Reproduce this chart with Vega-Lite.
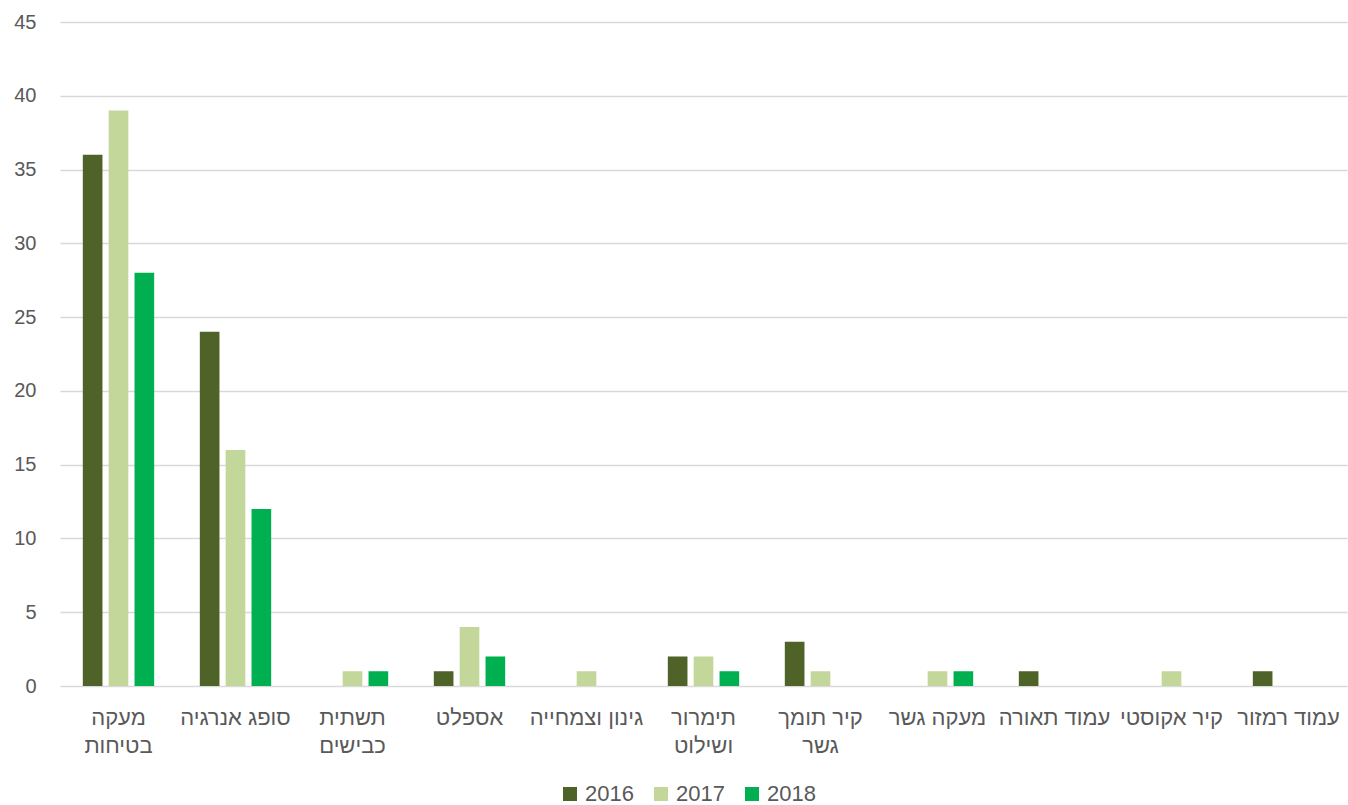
{
  "$schema": "https://vega.github.io/schema/vega-lite/v6.json",
  "width": 1287,
  "height": 664,
  "autosize": {"type": "none"},
  "padding": {"left": 60, "top": 22, "right": 1, "bottom": 119},
  "background": "white",
  "config": {
    "font": "Liberation Sans",
    "view": {"stroke": null},
    "axis": {"labelFont": "Liberation Sans", "labelColor": "#595959"}
  },
  "data": {
    "values": [
      {"category": "מעקה בטיחות", "year": "2016", "value": 36},
      {"category": "מעקה בטיחות", "year": "2017", "value": 39},
      {"category": "מעקה בטיחות", "year": "2018", "value": 28},
      {"category": "סופג אנרגיה", "year": "2016", "value": 24},
      {"category": "סופג אנרגיה", "year": "2017", "value": 16},
      {"category": "סופג אנרגיה", "year": "2018", "value": 12},
      {"category": "תשתית כבישים", "year": "2016", "value": 0},
      {"category": "תשתית כבישים", "year": "2017", "value": 1},
      {"category": "תשתית כבישים", "year": "2018", "value": 1},
      {"category": "אספלט", "year": "2016", "value": 1},
      {"category": "אספלט", "year": "2017", "value": 4},
      {"category": "אספלט", "year": "2018", "value": 2},
      {"category": "גינון וצמחייה", "year": "2016", "value": 0},
      {"category": "גינון וצמחייה", "year": "2017", "value": 1},
      {"category": "גינון וצמחייה", "year": "2018", "value": 0},
      {"category": "תימרור ושילוט", "year": "2016", "value": 2},
      {"category": "תימרור ושילוט", "year": "2017", "value": 2},
      {"category": "תימרור ושילוט", "year": "2018", "value": 1},
      {"category": "קיר תומך גשר", "year": "2016", "value": 3},
      {"category": "קיר תומך גשר", "year": "2017", "value": 1},
      {"category": "קיר תומך גשר", "year": "2018", "value": 0},
      {"category": "מעקה גשר", "year": "2016", "value": 0},
      {"category": "מעקה גשר", "year": "2017", "value": 1},
      {"category": "מעקה גשר", "year": "2018", "value": 1},
      {"category": "עמוד תאורה", "year": "2016", "value": 1},
      {"category": "עמוד תאורה", "year": "2017", "value": 0},
      {"category": "עמוד תאורה", "year": "2018", "value": 0},
      {"category": "קיר אקוסטי", "year": "2016", "value": 0},
      {"category": "קיר אקוסטי", "year": "2017", "value": 1},
      {"category": "קיר אקוסטי", "year": "2018", "value": 0},
      {"category": "עמוד רמזור", "year": "2016", "value": 1},
      {"category": "עמוד רמזור", "year": "2017", "value": 0},
      {"category": "עמוד רמזור", "year": "2018", "value": 0}
    ]
  },
  "mark": {"type": "bar"},
  "encoding": {
    "x": {
      "field": "category",
      "type": "nominal",
      "sort": null,
      "scale": {"paddingInner": 0.39, "paddingOuter": 0.195},
      "axis": {
        "title": null,
        "labelAngle": 0,
        "labelFontSize": 22,
        "labelPadding": 31,
        "labelLineHeight": 28,
        "labelBaseline": "middle",
        "ticks": false,
        "domain": false,
        "labelLimit": 200,
        "labelExpr": "datum.value == 'מעקה בטיחות' ? ['מעקה', 'בטיחות'] : datum.value == 'תשתית כבישים' ? ['תשתית', 'כבישים'] : datum.value == 'תימרור ושילוט' ? ['תימרור', 'ושילוט'] : datum.value == 'קיר תומך גשר' ? ['קיר תומך', 'גשר'] : datum.value"
      }
    },
    "xOffset": {
      "field": "year",
      "type": "nominal",
      "scale": {"paddingInner": 0.24, "paddingOuter": 0}
    },
    "y": {
      "field": "value",
      "type": "quantitative",
      "scale": {"domain": [0, 45], "nice": false},
      "axis": {
        "title": null,
        "values": [0, 5, 10, 15, 20, 25, 30, 35, 40, 45],
        "labelFontSize": 20,
        "labelPadding": 24,
        "ticks": false,
        "domain": false,
        "gridColor": "#d9d9d9",
        "gridWidth": 1.5
      }
    },
    "color": {
      "field": "year",
      "type": "nominal",
      "scale": {"domain": ["2016", "2017", "2018"], "range": ["#4F6228", "#C4D79B", "#00B050"]},
      "legend": {
        "title": null,
        "orient": "none",
        "direction": "horizontal",
        "legendX": 499,
        "legendY": 761,
        "symbolType": "square",
        "symbolSize": 196,
        "symbolStrokeWidth": 0,
        "labelFontSize": 22,
        "labelColor": "#595959",
        "labelFont": "Liberation Sans",
        "labelOffset": 4,
        "columnPadding": 16
      }
    }
  }
}
